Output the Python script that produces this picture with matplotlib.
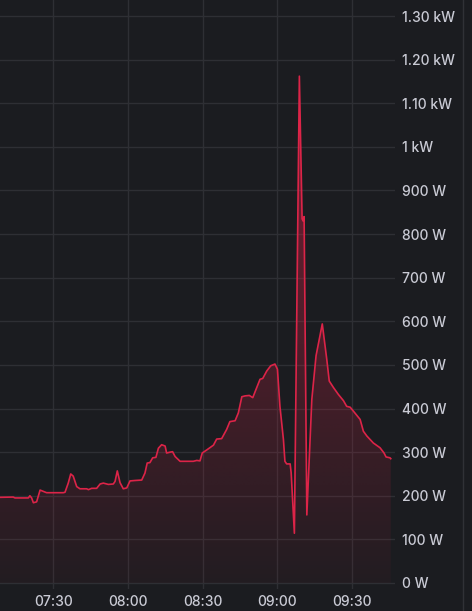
import numpy as np
import pandas as pd
import matplotlib
matplotlib.use("Agg")
import matplotlib.pyplot as plt
import matplotlib.dates as mdates
from matplotlib.lines import Line2D

# power readings, minutes after 07:00 and watts
minutes = [5.0, 13.9, 14.6, 20.0, 20.6, 21.3, 22.0, 23.3, 24.7, 26.0, 27.3, 34.0, 34.7,
           36.0, 37.0, 38.0, 39.4, 40.7, 43.4, 44.1, 45.4, 47.4, 48.8, 50.1, 52.1, 54.1,
           54.8, 55.7, 56.8, 58.1, 59.5, 60.8, 62.8, 65.5, 66.8, 67.7, 68.8, 69.9, 71.2,
           72.2, 73.5, 74.9, 75.5, 76.9, 77.9, 78.9, 80.9, 83.6, 86.2, 87.6, 88.9, 89.8,
           91.6, 94.3, 95.6, 97.6, 99.6, 100.9, 103.0, 104.3, 105.7, 107.0, 108.7, 110.1,
           111.4, 113.0, 114.1, 115.7, 117.3, 119.0, 120.0, 121.0, 122.4, 123.0, 123.7,
           125.1, 125.5, 126.8, 128.8, 129.9, 130.3, 130.7, 131.8, 133.8, 135.5, 138.0,
           139.8, 140.8, 142.5, 144.5, 146.5, 147.8, 149.2, 150.5, 153.2, 154.5, 155.9,
           158.5, 161.2, 162.8, 163.6, 165.2, 165.5]
watts = [196, 197, 195, 195, 200, 195, 184, 186, 213, 210, 207, 207, 208,
         229, 250, 245, 221, 216, 216, 214, 217, 217, 227, 229, 226, 227,
         233, 257, 230, 216, 218, 234, 235, 236, 252, 275, 276, 287, 288,
         309, 317, 314, 298, 300, 301, 290, 279, 279, 279, 281, 280, 298,
         305, 316, 330, 331, 352, 370, 372, 390, 427, 429, 430, 425,
         444, 467, 469, 486, 498, 502, 490, 405, 329, 279, 273,
         273, 253, 114, 1162, 835, 830, 840, 156, 421, 521, 594,
         513, 463, 448, 432, 418, 405, 403, 394, 375, 348, 337,
         321, 310, 298, 289, 287, 285]

y_ticks = list(range(0, 1301, 100))
y_labels = ["0 W", "100 W", "200 W", "300 W", "400 W", "500 W", "600 W", "700 W",
            "800 W", "900 W", "1 kW", "1.10 kW", "1.20 kW", "1.30 kW"]

bg = "#1b1c20"
grid = "#2e2f34"
red = "#dc2448"
text = "#c9cad4"

base = pd.Timestamp("2024-01-01 07:00")
t = base + pd.to_timedelta(minutes, unit="min")
tn = mdates.date2num(t.to_pydatetime())
w = np.array(watts, dtype=float)

fig = plt.figure(figsize=(4.72, 6.11), dpi=100, facecolor=bg)
ax = fig.add_axes([0, 22 / 611, 395 / 472, 589 / 611], facecolor=bg)

x0 = mdates.date2num(base + pd.Timedelta(minutes=8.6))
x1 = mdates.date2num(base + pd.Timedelta(minutes=167.2))
ax.set_xlim(x0, x1)
ax.set_ylim(-13.8, 1336.7)

# gradient fill under the line, stronger the higher the value
poly = ax.fill_between(tn, w, 0, color="none", lw=0)
yy = np.linspace(0, 1300, 256)
img = np.zeros((256, 1, 4))
img[..., 0] = 0xdc / 255
img[..., 1] = 0x24 / 255
img[..., 2] = 0x48 / 255
img[:, 0, 3] = 0.04 + 0.5 * yy / 1300
im = ax.imshow(img, extent=[tn[0], tn[-1], 0, 1300], origin="lower",
               aspect="auto", interpolation="bilinear", zorder=1)
im.set_clip_path(poly.get_paths()[0], transform=ax.transData)

ax.plot(tn, w, color=red, lw=1.2, zorder=3)

ax.set_yticks(y_ticks)
ax.set_yticklabels(y_labels)
ax.yaxis.tick_right()
ax.xaxis.set_major_locator(mdates.MinuteLocator(byminute=[0, 30]))
ax.xaxis.set_major_formatter(mdates.DateFormatter("%H:%M"))
ax.tick_params(axis="both", length=0, colors=text, labelsize=10)
ax.tick_params(axis="y", pad=5)
ax.tick_params(axis="x", pad=4.5)
for lab in ax.get_xticklabels() + ax.get_yticklabels():
    lab.set_family(["Inter", "DejaVu Sans"])
    lab.set_fontweight("medium")
ax.grid(True, color=grid, lw=1)
ax.set_axisbelow(True)
for s in ax.spines.values():
    s.set_visible(False)

fig.add_artist(Line2D([462.5 / 472, 462.5 / 472], [0, 1], color="#303136", lw=1))

fig.savefig("out.png", dpi=100, facecolor=bg)
